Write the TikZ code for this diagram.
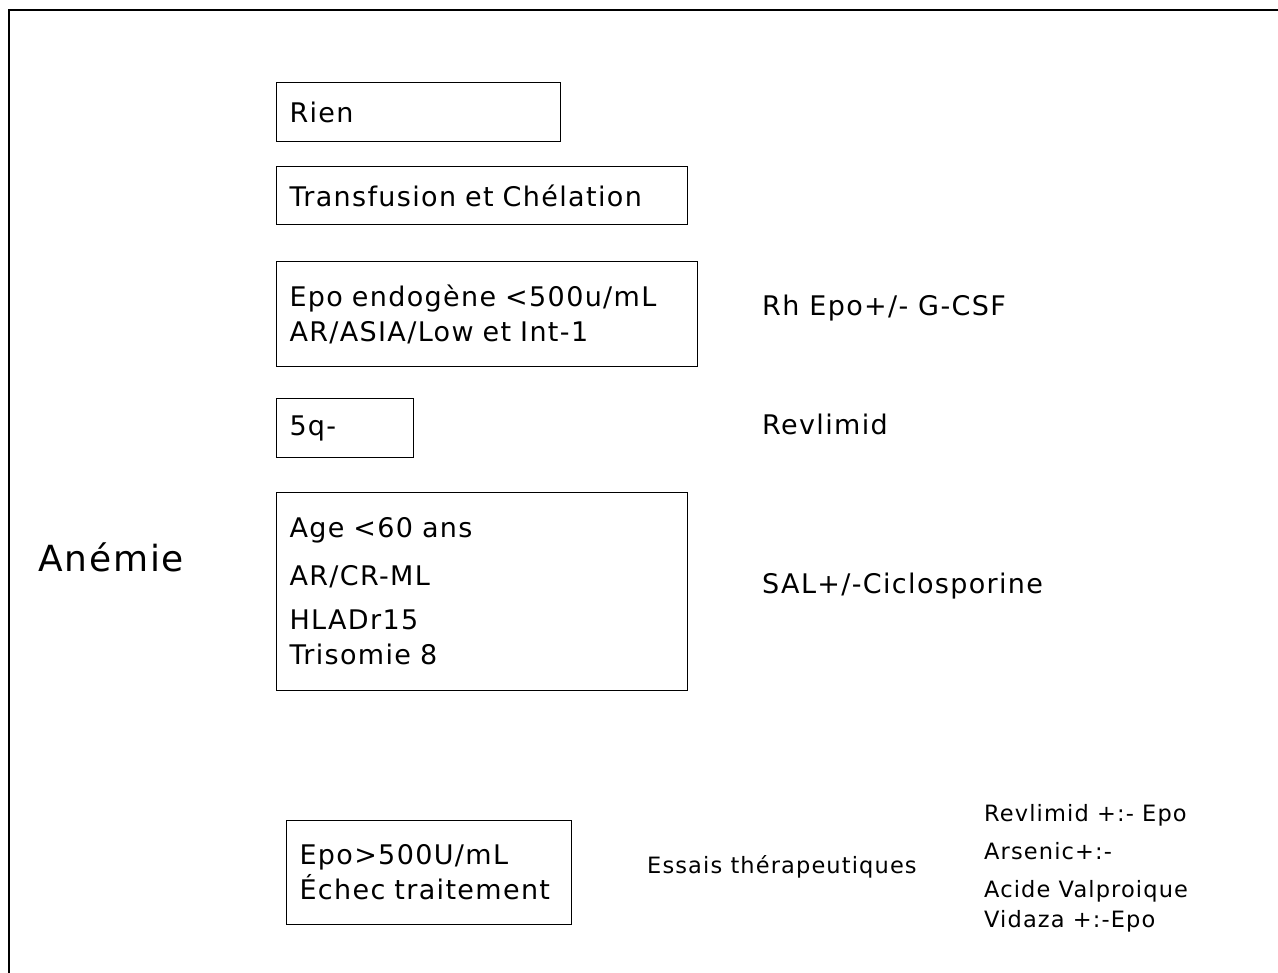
\documentclass[tikz,border=0pt]{standalone}
\usepackage{fontspec}
\setmainfont{DejaVu Sans}[LetterSpace=5]
\begin{document}
\begin{tikzpicture}[x=1pt,y=-1pt,
  box/.style={draw=black, line width=1pt, anchor=north west, align=left,
    inner xsep=13pt, inner ysep=0pt, font=\fontsize{27}{35}\selectfont},
  lbl/.style={anchor=base west, inner sep=0pt, font=\fontsize{27}{35}\selectfont},
  big/.style={anchor=base west, inner sep=0pt, font=\fontsize{36}{44}\selectfont},
  small/.style={anchor=base west, inner sep=0pt, font=\fontsize{22.5}{30}\selectfont}]
\useasboundingbox (0,0) rectangle (1278,973);
\clip (0,0) rectangle (1278,973);
\draw[line width=2pt] (9,10) rectangle (1300,1000);

\node[box, minimum width=284pt, minimum height=59pt, text width=258pt] (rien) at (276,82) {Rien};
\node[box, minimum width=411pt, minimum height=58pt, text width=385pt] (trans) at (276,166) {Transfusion et Chélation};
\node[box, minimum width=421pt, minimum height=105pt, text width=395pt] (epo) at (276,261)
  {Epo endogène <500u/mL\\AR/ASIA/Low et Int-1};
\node[box, minimum width=137pt, minimum height=59pt, text width=111pt] (q5) at (276,398) {5q-};
\node[box, minimum width=411pt, minimum height=198pt, text width=385pt] (age) at (276,492)
  {Age <60 ans\\[13pt]AR/CR-ML\\[9pt]HLADr15\\Trisomie 8};
\node[box, minimum width=285pt, minimum height=104pt, text width=259pt] (epohigh) at (286,820)
  {Epo>500U/mL\\Échec traitement};

\node[big] (anemie) at (38,572) {Anémie};
\node[lbl] (rhepo) at (762,316) {Rh Epo+/- G-CSF};
\node[lbl] (revlimid) at (762,435) {Revlimid};
\node[lbl] (sal) at (762,593) {SAL+/-Ciclosporine};
\node[small] (essais) at (647,873) {Essais thérapeutiques};
\node[small] (t1) at (984,821) {Revlimid +:- Epo};
\node[small] (t2) at (984,859) {Arsenic+:-};
\node[small] (t3) at (984,897) {Acide Valproique};
\node[small] (t4) at (984,927) {Vidaza +:-Epo};
\end{tikzpicture}
\end{document}
